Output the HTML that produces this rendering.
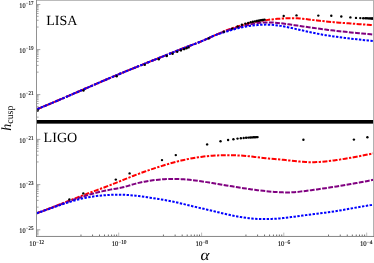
<!DOCTYPE html>
<html><head><meta charset="utf-8"><title>h_cusp vs alpha</title>
<style>html,body{margin:0;padding:0;background:#fff;}body{width:374px;height:263px;overflow:hidden;font-family:"Liberation Serif",serif;}svg{display:block;}</style>
</head><body>
<svg width="374" height="263" viewBox="0 0 374 263">
<rect width="374" height="263" fill="#fff"/>
<g fill="none" stroke-width="2.0">
<path d="M37.50,109.00 L40.32,107.84 L43.15,106.67 L45.97,105.50 L48.79,104.32 L51.62,103.13 L54.44,101.93 L57.26,100.73 L60.09,99.52 L62.91,98.31 L65.74,97.10 L68.56,95.88 L71.38,94.66 L74.21,93.44 L77.03,92.21 L79.85,90.98 L82.68,89.76 L85.50,88.53 L88.32,87.31 L91.15,86.08 L93.97,84.86 L96.79,83.64 L99.62,82.42 L102.44,81.20 L105.26,79.99 L108.09,78.79 L110.91,77.58 L113.74,76.39 L116.56,75.20 L119.38,74.02 L122.21,72.84 L125.03,71.68 L127.85,70.52 L130.68,69.36 L133.50,68.22 L136.32,67.08 L139.15,65.94 L141.97,64.81 L144.79,63.68 L147.62,62.55 L150.44,61.42 L153.26,60.29 L156.09,59.17 L158.91,58.04 L161.74,56.90 L164.56,55.77 L167.38,54.63 L170.21,53.50 L173.03,52.37 L175.85,51.24 L178.68,50.12 L181.50,49.00 L184.32,47.89 L187.15,46.80 L189.97,45.71 L192.79,44.64 L195.62,43.56 L198.44,42.46 L201.26,41.34 L204.09,40.16 L206.91,38.93 L209.74,37.66 L212.56,36.37 L215.38,35.07 L218.21,33.80 L221.03,32.56 L223.85,31.37 L226.68,30.24 L229.50,29.19 L232.32,28.19 L235.15,27.26 L237.97,26.39 L240.79,25.56 L243.62,24.78 L246.44,24.04 L249.26,23.34 L252.09,22.69 L254.91,22.09 L257.74,21.53 L260.56,21.01 L263.38,20.54 L266.21,20.12 L269.03,19.74 L271.85,19.40 L274.68,19.10 L277.50,18.85 L280.32,18.63 L283.15,18.45 L285.97,18.30 L288.79,18.21 L291.62,18.17 L294.44,18.21 L297.26,18.34 L300.09,18.54 L302.91,18.80 L305.74,19.10 L308.56,19.44 L311.38,19.78 L314.21,20.12 L317.03,20.45 L319.85,20.77 L322.68,21.07 L325.50,21.36 L328.32,21.64 L331.15,21.90 L333.97,22.16 L336.79,22.41 L339.62,22.64 L342.44,22.88 L345.26,23.10 L348.09,23.32 L350.91,23.53 L353.74,23.75 L356.56,23.95 L359.38,24.16 L362.21,24.37 L365.03,24.57 L367.85,24.78 L370.68,24.99 L373.50,25.20" stroke="#ff0000" stroke-dasharray="5.0 1.45 2.3 1.45"/>
<path d="M36.80,213.20 L39.63,212.17 L42.46,211.12 L45.29,210.05 L48.12,208.97 L50.95,207.87 L53.78,206.77 L56.61,205.66 L59.44,204.54 L62.26,203.42 L65.09,202.30 L67.92,201.18 L70.75,200.07 L73.58,198.95 L76.41,197.85 L79.24,196.75 L82.07,195.67 L84.90,194.60 L87.73,193.54 L90.56,192.49 L93.39,191.44 L96.22,190.39 L99.05,189.35 L101.88,188.29 L104.71,187.23 L107.54,186.15 L110.36,185.06 L113.19,183.94 L116.02,182.82 L118.85,181.68 L121.68,180.54 L124.51,179.39 L127.34,178.26 L130.17,177.13 L133.00,176.01 L135.83,174.92 L138.66,173.85 L141.49,172.80 L144.32,171.78 L147.15,170.77 L149.98,169.79 L152.81,168.83 L155.64,167.90 L158.46,166.98 L161.29,166.09 L164.12,165.22 L166.95,164.37 L169.78,163.55 L172.61,162.75 L175.44,161.99 L178.27,161.27 L181.10,160.57 L183.93,159.92 L186.76,159.31 L189.59,158.74 L192.42,158.22 L195.25,157.73 L198.08,157.29 L200.91,156.90 L203.74,156.54 L206.56,156.23 L209.39,155.97 L212.22,155.74 L215.05,155.56 L217.88,155.41 L220.71,155.30 L223.54,155.23 L226.37,155.19 L229.20,155.18 L232.03,155.21 L234.86,155.28 L237.69,155.39 L240.52,155.54 L243.35,155.74 L246.18,155.98 L249.01,156.26 L251.84,156.58 L254.66,156.92 L257.49,157.27 L260.32,157.62 L263.15,157.95 L265.98,158.26 L268.81,158.54 L271.64,158.80 L274.47,159.04 L277.30,159.29 L280.13,159.53 L282.96,159.80 L285.79,160.09 L288.62,160.39 L291.45,160.71 L294.28,161.03 L297.11,161.33 L299.94,161.61 L302.76,161.84 L305.59,162.03 L308.42,162.16 L311.25,162.21 L314.08,162.19 L316.91,162.09 L319.74,161.93 L322.57,161.72 L325.40,161.45 L328.23,161.15 L331.06,160.81 L333.89,160.44 L336.72,160.04 L339.55,159.62 L342.38,159.17 L345.21,158.71 L348.04,158.23 L350.86,157.73 L353.69,157.22 L356.52,156.69 L359.35,156.15 L362.18,155.61 L365.01,155.06 L367.84,154.51 L370.67,153.95 L373.50,153.40" stroke="#ff0000" stroke-dasharray="5.0 1.45 2.3 1.45"/>
<path d="M37.50,109.00 L40.32,107.84 L43.15,106.67 L45.97,105.50 L48.79,104.32 L51.62,103.13 L54.44,101.93 L57.26,100.73 L60.09,99.53 L62.91,98.31 L65.74,97.10 L68.56,95.88 L71.38,94.66 L74.21,93.44 L77.03,92.21 L79.85,90.98 L82.68,89.76 L85.50,88.53 L88.32,87.30 L91.15,86.08 L93.97,84.86 L96.79,83.63 L99.62,82.42 L102.44,81.20 L105.26,79.99 L108.09,78.78 L110.91,77.58 L113.74,76.39 L116.56,75.20 L119.38,74.02 L122.21,72.84 L125.03,71.68 L127.85,70.52 L130.68,69.37 L133.50,68.22 L136.32,67.08 L139.15,65.94 L141.97,64.81 L144.79,63.68 L147.62,62.55 L150.44,61.43 L153.26,60.30 L156.09,59.17 L158.91,58.04 L161.74,56.90 L164.56,55.77 L167.38,54.63 L170.21,53.49 L173.03,52.36 L175.85,51.23 L178.68,50.11 L181.50,48.99 L184.32,47.89 L187.15,46.79 L189.97,45.71 L192.79,44.64 L195.62,43.57 L198.44,42.48 L201.26,41.35 L204.09,40.16 L206.91,38.91 L209.74,37.62 L212.56,36.33 L215.38,35.08 L218.21,33.88 L221.03,32.76 L223.85,31.71 L226.68,30.73 L229.50,29.81 L232.32,28.96 L235.15,28.15 L237.97,27.39 L240.79,26.65 L243.62,25.94 L246.44,25.26 L249.26,24.62 L252.09,24.05 L254.91,23.54 L257.74,23.11 L260.56,22.78 L263.38,22.54 L266.21,22.41 L269.03,22.38 L271.85,22.47 L274.68,22.65 L277.50,22.91 L280.32,23.23 L283.15,23.59 L285.97,23.97 L288.79,24.36 L291.62,24.75 L294.44,25.16 L297.26,25.57 L300.09,25.99 L302.91,26.40 L305.74,26.81 L308.56,27.23 L311.38,27.63 L314.21,28.03 L317.03,28.42 L319.85,28.80 L322.68,29.17 L325.50,29.53 L328.32,29.89 L331.15,30.23 L333.97,30.57 L336.79,30.90 L339.62,31.22 L342.44,31.53 L345.26,31.84 L348.09,32.13 L350.91,32.42 L353.74,32.71 L356.56,32.98 L359.38,33.25 L362.21,33.51 L365.03,33.77 L367.85,34.02 L370.68,34.26 L373.50,34.50" stroke="#800080" stroke-dasharray="4.8 1.4"/>
<path d="M37.50,109.00 L40.32,107.84 L43.15,106.68 L45.97,105.50 L48.79,104.32 L51.62,103.13 L54.44,101.94 L57.26,100.74 L60.09,99.53 L62.91,98.32 L65.74,97.10 L68.56,95.88 L71.38,94.66 L74.21,93.44 L77.03,92.21 L79.85,90.99 L82.68,89.76 L85.50,88.53 L88.32,87.30 L91.15,86.08 L93.97,84.85 L96.79,83.63 L99.62,82.41 L102.44,81.20 L105.26,79.99 L108.09,78.78 L110.91,77.58 L113.74,76.39 L116.56,75.20 L119.38,74.02 L122.21,72.84 L125.03,71.68 L127.85,70.52 L130.68,69.37 L133.50,68.22 L136.32,67.09 L139.15,65.95 L141.97,64.82 L144.79,63.69 L147.62,62.56 L150.44,61.43 L153.26,60.30 L156.09,59.17 L158.91,58.04 L161.74,56.90 L164.56,55.76 L167.38,54.62 L170.21,53.47 L173.03,52.34 L175.85,51.20 L178.68,50.08 L181.50,48.97 L184.32,47.87 L187.15,46.78 L189.97,45.71 L192.79,44.66 L195.62,43.60 L198.44,42.51 L201.26,41.38 L204.09,40.16 L206.91,38.86 L209.74,37.54 L212.56,36.26 L215.38,35.09 L218.21,34.08 L221.03,33.18 L223.85,32.34 L226.68,31.50 L229.50,30.65 L232.32,29.81 L235.15,28.99 L237.97,28.23 L240.79,27.55 L243.62,26.95 L246.44,26.44 L249.26,26.00 L252.09,25.63 L254.91,25.31 L257.74,25.04 L260.56,24.82 L263.38,24.66 L266.21,24.60 L269.03,24.66 L271.85,24.83 L274.68,25.09 L277.50,25.44 L280.32,25.87 L283.15,26.35 L285.97,26.87 L288.79,27.43 L291.62,28.03 L294.44,28.64 L297.26,29.27 L300.09,29.91 L302.91,30.56 L305.74,31.20 L308.56,31.83 L311.38,32.45 L314.21,33.04 L317.03,33.61 L319.85,34.14 L322.68,34.65 L325.50,35.14 L328.32,35.60 L331.15,36.04 L333.97,36.46 L336.79,36.86 L339.62,37.24 L342.44,37.60 L345.26,37.96 L348.09,38.29 L350.91,38.62 L353.74,38.94 L356.56,39.25 L359.38,39.55 L362.21,39.84 L365.03,40.14 L367.85,40.42 L370.68,40.71 L373.50,41.00" stroke="#0000ff" stroke-dasharray="2.4 1.45"/>
<path d="M36.80,213.20 L39.63,212.18 L42.46,211.15 L45.29,210.11 L48.12,209.06 L50.95,208.00 L53.78,206.95 L56.61,205.89 L59.44,204.84 L62.26,203.79 L65.09,202.75 L67.92,201.73 L70.75,200.72 L73.58,199.73 L76.41,198.76 L79.24,197.81 L82.07,196.89 L84.90,196.00 L87.73,195.14 L90.56,194.32 L93.39,193.53 L96.22,192.78 L99.05,192.06 L101.88,191.39 L104.71,190.76 L107.54,190.17 L110.36,189.63 L113.19,189.13 L116.02,188.64 L118.85,188.12 L121.68,187.54 L124.51,186.87 L127.34,186.09 L130.17,185.25 L133.00,184.40 L135.83,183.60 L138.66,182.88 L141.49,182.23 L144.32,181.66 L147.15,181.15 L149.98,180.70 L152.81,180.30 L155.64,179.95 L158.46,179.64 L161.29,179.39 L164.12,179.18 L166.95,179.02 L169.78,178.92 L172.61,178.88 L175.44,178.90 L178.27,178.99 L181.10,179.13 L183.93,179.33 L186.76,179.57 L189.59,179.86 L192.42,180.17 L195.25,180.51 L198.08,180.88 L200.91,181.28 L203.74,181.69 L206.56,182.12 L209.39,182.57 L212.22,183.03 L215.05,183.49 L217.88,183.96 L220.71,184.44 L223.54,184.92 L226.37,185.40 L229.20,185.88 L232.03,186.35 L234.86,186.82 L237.69,187.28 L240.52,187.73 L243.35,188.18 L246.18,188.61 L249.01,189.02 L251.84,189.42 L254.66,189.81 L257.49,190.18 L260.32,190.53 L263.15,190.85 L265.98,191.16 L268.81,191.44 L271.64,191.70 L274.47,191.92 L277.30,192.11 L280.13,192.26 L282.96,192.37 L285.79,192.43 L288.62,192.43 L291.45,192.34 L294.28,192.17 L297.11,191.93 L299.94,191.63 L302.76,191.30 L305.59,190.94 L308.42,190.56 L311.25,190.18 L314.08,189.79 L316.91,189.39 L319.74,188.98 L322.57,188.56 L325.40,188.14 L328.23,187.72 L331.06,187.28 L333.89,186.85 L336.72,186.41 L339.55,185.96 L342.38,185.51 L345.21,185.04 L348.04,184.57 L350.86,184.09 L353.69,183.60 L356.52,183.10 L359.35,182.58 L362.18,182.06 L365.01,181.52 L367.84,180.96 L370.67,180.39 L373.50,179.80" stroke="#800080" stroke-dasharray="4.8 1.4"/>
<path d="M36.80,213.20 L39.63,212.23 L42.46,211.24 L45.29,210.24 L48.12,209.24 L50.95,208.23 L53.78,207.23 L56.61,206.23 L59.44,205.26 L62.26,204.30 L65.09,203.36 L67.92,202.46 L70.75,201.59 L73.58,200.76 L76.41,199.98 L79.24,199.25 L82.07,198.57 L84.90,197.96 L87.73,197.41 L90.56,196.92 L93.39,196.48 L96.22,196.10 L99.05,195.77 L101.88,195.48 L104.71,195.24 L107.54,195.04 L110.36,194.88 L113.19,194.76 L116.02,194.68 L118.85,194.65 L121.68,194.68 L124.51,194.77 L127.34,194.93 L130.17,195.14 L133.00,195.40 L135.83,195.71 L138.66,196.05 L141.49,196.42 L144.32,196.81 L147.15,197.22 L149.98,197.64 L152.81,198.06 L155.64,198.50 L158.46,198.95 L161.29,199.43 L164.12,199.92 L166.95,200.44 L169.78,200.98 L172.61,201.56 L175.44,202.17 L178.27,202.80 L181.10,203.46 L183.93,204.13 L186.76,204.82 L189.59,205.50 L192.42,206.18 L195.25,206.86 L198.08,207.53 L200.91,208.19 L203.74,208.84 L206.56,209.50 L209.39,210.16 L212.22,210.82 L215.05,211.49 L217.88,212.16 L220.71,212.84 L223.54,213.51 L226.37,214.17 L229.20,214.81 L232.03,215.42 L234.86,216.00 L237.69,216.54 L240.52,217.04 L243.35,217.48 L246.18,217.87 L249.01,218.20 L251.84,218.48 L254.66,218.71 L257.49,218.88 L260.32,219.00 L263.15,219.06 L265.98,219.07 L268.81,219.02 L271.64,218.93 L274.47,218.79 L277.30,218.61 L280.13,218.38 L282.96,218.11 L285.79,217.80 L288.62,217.46 L291.45,217.09 L294.28,216.71 L297.11,216.31 L299.94,215.91 L302.76,215.52 L305.59,215.13 L308.42,214.77 L311.25,214.42 L314.08,214.08 L316.91,213.74 L319.74,213.39 L322.57,213.04 L325.40,212.68 L328.23,212.29 L331.06,211.89 L333.89,211.46 L336.72,211.00 L339.55,210.53 L342.38,210.04 L345.21,209.54 L348.04,209.03 L350.86,208.52 L353.69,208.01 L356.52,207.50 L359.35,206.99 L362.18,206.50 L365.01,206.02 L367.84,205.56 L370.67,205.12 L373.50,204.70" stroke="#0000ff" stroke-dasharray="2.4 1.45"/>
</g>
<g fill="#000">
<circle cx="83.50" cy="90.55" r="1.2"/>
<circle cx="116.70" cy="76.29" r="1.2"/>
<circle cx="144.80" cy="64.83" r="1.2"/>
<circle cx="158.80" cy="59.23" r="1.2"/>
<circle cx="166.80" cy="56.02" r="1.2"/>
<circle cx="172.60" cy="53.69" r="1.2"/>
<circle cx="177.20" cy="51.85" r="1.2"/>
<circle cx="180.90" cy="50.39" r="1.2"/>
<circle cx="184.10" cy="49.13" r="1.2"/>
<circle cx="186.50" cy="48.20" r="1.2"/>
<circle cx="188.60" cy="47.39" r="1.2"/>
<circle cx="208.78" cy="38.39" r="1.2"/>
<circle cx="223.94" cy="31.63" r="1.2"/>
<circle cx="232.06" cy="28.59" r="1.2"/>
<circle cx="237.63" cy="26.43" r="1.2"/>
<circle cx="241.88" cy="24.76" r="1.2"/>
<circle cx="245.31" cy="23.63" r="1.2"/>
<circle cx="248.20" cy="22.90" r="1.2"/>
<circle cx="250.68" cy="22.31" r="1.2"/>
<circle cx="252.86" cy="21.82" r="1.2"/>
<circle cx="254.81" cy="21.41" r="1.2"/>
<circle cx="256.57" cy="21.05" r="1.2"/>
<circle cx="258.17" cy="20.75" r="1.2"/>
<circle cx="259.64" cy="20.48" r="1.2"/>
<circle cx="261.00" cy="20.24" r="1.2"/>
<circle cx="262.26" cy="20.02" r="1.2"/>
<circle cx="263.44" cy="19.83" r="1.2"/>
<circle cx="264.55" cy="19.66" r="1.2"/>
<circle cx="283.70" cy="16.00" r="1.2"/>
<circle cx="296.50" cy="15.40" r="1.2"/>
<circle cx="318.30" cy="15.60" r="1.2"/>
<circle cx="331.30" cy="15.70" r="1.2"/>
<circle cx="341.30" cy="16.50" r="1.2"/>
<circle cx="350.40" cy="17.40" r="1.2"/>
<circle cx="356.00" cy="17.90" r="1.2"/>
<circle cx="360.30" cy="18.10" r="1.2"/>
<circle cx="363.20" cy="18.19" r="1.2"/>
<circle cx="365.30" cy="18.25" r="1.2"/>
<circle cx="366.90" cy="18.30" r="1.2"/>
<circle cx="368.30" cy="18.34" r="1.2"/>
<circle cx="369.50" cy="18.38" r="1.2"/>
<circle cx="370.60" cy="18.41" r="1.2"/>
<circle cx="371.70" cy="18.44" r="1.2"/>
<circle cx="372.60" cy="18.47" r="1.2"/>
<circle cx="373.40" cy="18.49" r="1.2"/>
<circle cx="69.40" cy="199.40" r="1.2"/>
<circle cx="83.30" cy="193.40" r="1.2"/>
<circle cx="115.80" cy="179.60" r="1.2"/>
<circle cx="129.60" cy="173.40" r="1.2"/>
<circle cx="162.00" cy="160.10" r="1.2"/>
<circle cx="175.80" cy="155.10" r="1.2"/>
<circle cx="303.40" cy="139.80" r="1.2"/>
<circle cx="353.90" cy="139.60" r="1.2"/>
<circle cx="367.40" cy="137.30" r="1.2"/>
<circle cx="207.14" cy="144.42" r="1.2"/>
<circle cx="220.52" cy="141.30" r="1.2"/>
<circle cx="228.11" cy="140.00" r="1.2"/>
<circle cx="233.43" cy="139.20" r="1.2"/>
<circle cx="237.53" cy="138.58" r="1.2"/>
<circle cx="240.87" cy="138.25" r="1.2"/>
<circle cx="243.69" cy="137.94" r="1.2"/>
<circle cx="246.12" cy="137.75" r="1.2"/>
<circle cx="248.26" cy="137.61" r="1.2"/>
<circle cx="250.18" cy="137.49" r="1.2"/>
<circle cx="251.91" cy="137.39" r="1.2"/>
<circle cx="253.49" cy="137.30" r="1.2"/>
<circle cx="254.94" cy="137.22" r="1.2"/>
<circle cx="256.29" cy="137.16" r="1.2"/>
<circle cx="257.54" cy="137.10" r="1.2"/>
</g>
<circle cx="37.7" cy="110.5" r="1.3" fill="#000"/>
<rect x="36" y="120" width="338" height="3.65" fill="#000"/>
<rect x="36" y="0" width="338" height="0.85" fill="#b0b0b0"/>
<rect x="373.05" y="0" width="0.95" height="236.85" fill="#adadad"/>
<rect x="36" y="0" width="0.95" height="236.85" fill="#8c8c8c"/>
<rect x="36" y="235.95" width="338" height="0.85" fill="#707070"/>
<g stroke="#707070" stroke-width="0.65" fill="none">
<path d="M36.9,4.50 h3.4"/>
<path d="M36.9,5.53 h1.7"/>
<path d="M36.9,6.69 h1.7"/>
<path d="M36.9,7.99 h1.7"/>
<path d="M36.9,9.50 h1.7"/>
<path d="M36.9,11.29 h1.7"/>
<path d="M36.9,13.47 h1.7"/>
<path d="M36.9,16.29 h1.7"/>
<path d="M36.9,20.26 h1.7"/>
<path d="M36.9,27.05 h1.7"/>
<path d="M36.9,49.60 h3.4"/>
<path d="M36.9,50.63 h1.7"/>
<path d="M36.9,51.79 h1.7"/>
<path d="M36.9,53.09 h1.7"/>
<path d="M36.9,54.60 h1.7"/>
<path d="M36.9,56.39 h1.7"/>
<path d="M36.9,58.57 h1.7"/>
<path d="M36.9,61.39 h1.7"/>
<path d="M36.9,65.36 h1.7"/>
<path d="M36.9,72.15 h1.7"/>
<path d="M36.9,94.60 h3.4"/>
<path d="M36.9,95.63 h1.7"/>
<path d="M36.9,96.79 h1.7"/>
<path d="M36.9,98.09 h1.7"/>
<path d="M36.9,99.60 h1.7"/>
<path d="M36.9,101.39 h1.7"/>
<path d="M36.9,103.57 h1.7"/>
<path d="M36.9,106.39 h1.7"/>
<path d="M36.9,110.36 h1.7"/>
<path d="M36.9,117.15 h1.7"/>
<path d="M36.9,139.40 h3.4"/>
<path d="M36.9,140.43 h1.7"/>
<path d="M36.9,141.59 h1.7"/>
<path d="M36.9,142.89 h1.7"/>
<path d="M36.9,144.40 h1.7"/>
<path d="M36.9,146.19 h1.7"/>
<path d="M36.9,148.37 h1.7"/>
<path d="M36.9,151.19 h1.7"/>
<path d="M36.9,155.16 h1.7"/>
<path d="M36.9,161.95 h1.7"/>
<path d="M36.9,184.60 h3.4"/>
<path d="M36.9,185.63 h1.7"/>
<path d="M36.9,186.79 h1.7"/>
<path d="M36.9,188.09 h1.7"/>
<path d="M36.9,189.60 h1.7"/>
<path d="M36.9,191.39 h1.7"/>
<path d="M36.9,193.57 h1.7"/>
<path d="M36.9,196.39 h1.7"/>
<path d="M36.9,200.36 h1.7"/>
<path d="M36.9,207.15 h1.7"/>
<path d="M36.9,229.80 h3.4"/>
<path d="M36.9,230.83 h1.7"/>
<path d="M36.9,231.99 h1.7"/>
<path d="M36.9,233.29 h1.7"/>
<path d="M36.9,234.80 h1.7"/>
<path d="M118.7,236.0 v-3.4" stroke="#999"/>
<path d="M80.97,236.0 v-1.45" stroke="#4a4a4a" stroke-width="0.8"/>
<path d="M92.55,236.0 v-1.45" stroke="#4a4a4a" stroke-width="0.8"/>
<path d="M99.50,236.0 v-1.45" stroke="#4a4a4a" stroke-width="0.8"/>
<path d="M104.49,236.0 v-1.45" stroke="#4a4a4a" stroke-width="0.8"/>
<path d="M108.38,236.0 v-1.45" stroke="#4a4a4a" stroke-width="0.8"/>
<path d="M111.57,236.0 v-1.45" stroke="#4a4a4a" stroke-width="0.8"/>
<path d="M114.28,236.0 v-1.45" stroke="#4a4a4a" stroke-width="0.8"/>
<path d="M116.63,236.0 v-1.45" stroke="#4a4a4a" stroke-width="0.8"/>
<path d="M201.6,236.0 v-3.4" stroke="#999"/>
<path d="M163.43,236.0 v-1.45" stroke="#4a4a4a" stroke-width="0.8"/>
<path d="M175.14,236.0 v-1.45" stroke="#4a4a4a" stroke-width="0.8"/>
<path d="M182.18,236.0 v-1.45" stroke="#4a4a4a" stroke-width="0.8"/>
<path d="M187.23,236.0 v-1.45" stroke="#4a4a4a" stroke-width="0.8"/>
<path d="M191.16,236.0 v-1.45" stroke="#4a4a4a" stroke-width="0.8"/>
<path d="M194.39,236.0 v-1.45" stroke="#4a4a4a" stroke-width="0.8"/>
<path d="M197.13,236.0 v-1.45" stroke="#4a4a4a" stroke-width="0.8"/>
<path d="M199.50,236.0 v-1.45" stroke="#4a4a4a" stroke-width="0.8"/>
<path d="M283.8,236.0 v-3.4" stroke="#999"/>
<path d="M245.95,236.0 v-1.45" stroke="#4a4a4a" stroke-width="0.8"/>
<path d="M257.57,236.0 v-1.45" stroke="#4a4a4a" stroke-width="0.8"/>
<path d="M264.54,236.0 v-1.45" stroke="#4a4a4a" stroke-width="0.8"/>
<path d="M269.55,236.0 v-1.45" stroke="#4a4a4a" stroke-width="0.8"/>
<path d="M273.45,236.0 v-1.45" stroke="#4a4a4a" stroke-width="0.8"/>
<path d="M276.65,236.0 v-1.45" stroke="#4a4a4a" stroke-width="0.8"/>
<path d="M279.37,236.0 v-1.45" stroke="#4a4a4a" stroke-width="0.8"/>
<path d="M281.72,236.0 v-1.45" stroke="#4a4a4a" stroke-width="0.8"/>
<path d="M366.7,236.0 v-3.4" stroke="#999"/>
<path d="M328.53,236.0 v-1.45" stroke="#4a4a4a" stroke-width="0.8"/>
<path d="M340.24,236.0 v-1.45" stroke="#4a4a4a" stroke-width="0.8"/>
<path d="M347.28,236.0 v-1.45" stroke="#4a4a4a" stroke-width="0.8"/>
<path d="M352.33,236.0 v-1.45" stroke="#4a4a4a" stroke-width="0.8"/>
<path d="M356.26,236.0 v-1.45" stroke="#4a4a4a" stroke-width="0.8"/>
<path d="M359.49,236.0 v-1.45" stroke="#4a4a4a" stroke-width="0.8"/>
<path d="M362.23,236.0 v-1.45" stroke="#4a4a4a" stroke-width="0.8"/>
<path d="M364.60,236.0 v-1.45" stroke="#4a4a4a" stroke-width="0.8"/>
</g>
<g font-family="'Liberation Serif', serif" fill="#000" style="filter:grayscale(1)" text-rendering="geometricPrecision">
<text x="33.5" y="7.8" text-anchor="end" font-size="7.2" textLength="14.2" lengthAdjust="spacingAndGlyphs" stroke="#000" stroke-width="0.12">10<tspan dy="-3.0" font-size="5.8">−17</tspan></text>
<text x="33.5" y="52.85" text-anchor="end" font-size="7.2" textLength="14.2" lengthAdjust="spacingAndGlyphs" stroke="#000" stroke-width="0.12">10<tspan dy="-3.0" font-size="5.8">−19</tspan></text>
<text x="33.5" y="97.9" text-anchor="end" font-size="7.2" textLength="14.2" lengthAdjust="spacingAndGlyphs" stroke="#000" stroke-width="0.12">10<tspan dy="-3.0" font-size="5.8">−21</tspan></text>
<text x="33.5" y="142.7" text-anchor="end" font-size="7.2" textLength="14.2" lengthAdjust="spacingAndGlyphs" stroke="#000" stroke-width="0.12">10<tspan dy="-3.0" font-size="5.8">−21</tspan></text>
<text x="33.5" y="187.9" text-anchor="end" font-size="7.2" textLength="14.2" lengthAdjust="spacingAndGlyphs" stroke="#000" stroke-width="0.12">10<tspan dy="-3.0" font-size="5.8">−23</tspan></text>
<text x="33.5" y="233.1" text-anchor="end" font-size="7.2" textLength="14.2" lengthAdjust="spacingAndGlyphs" stroke="#000" stroke-width="0.12">10<tspan dy="-3.0" font-size="5.8">−25</tspan></text>
<text x="36.8" y="245.9" text-anchor="middle" font-size="7.2" textLength="14.9" lengthAdjust="spacingAndGlyphs" stroke="#000" stroke-width="0.12">10<tspan dy="-2.3" font-size="5.8">−12</tspan></text>
<text x="119.1" y="245.9" text-anchor="middle" font-size="7.2" textLength="14.9" lengthAdjust="spacingAndGlyphs" stroke="#000" stroke-width="0.12">10<tspan dy="-2.3" font-size="5.8">−10</tspan></text>
<text x="201.8" y="245.9" text-anchor="middle" font-size="7.2" textLength="12.6" lengthAdjust="spacingAndGlyphs" stroke="#000" stroke-width="0.12">10<tspan dy="-2.3" font-size="5.8">−8</tspan></text>
<text x="284.0" y="245.9" text-anchor="middle" font-size="7.2" textLength="12.6" lengthAdjust="spacingAndGlyphs" stroke="#000" stroke-width="0.12">10<tspan dy="-2.3" font-size="5.8">−6</tspan></text>
<text x="366.25" y="245.9" text-anchor="middle" font-size="7.2" textLength="12.6" lengthAdjust="spacingAndGlyphs" stroke="#000" stroke-width="0.12">10<tspan dy="-2.3" font-size="5.8">−4</tspan></text>
<text x="46.3" y="25.1" font-size="14">LISA</text>
<text x="43.6" y="141.5" font-size="14.1">LIGO</text>
<text transform="translate(200.5,259.6) scale(1.1,1)" font-size="15.5" font-style="italic">α</text>
<text transform="translate(10.6,130.7) rotate(-90)" font-size="14"><tspan font-style="italic">h</tspan><tspan dy="2.4" font-size="9.9">cusp</tspan></text>
</g>
</svg>
</body></html>
